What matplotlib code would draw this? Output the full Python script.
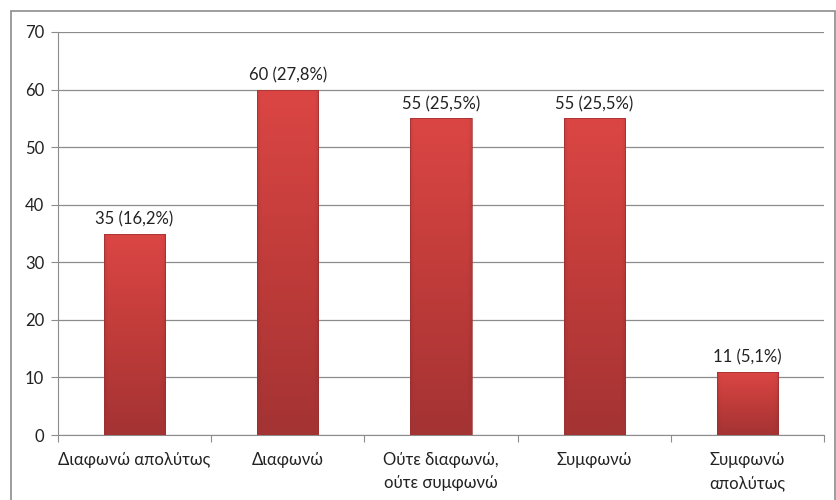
import numpy as np
import matplotlib
matplotlib.use("Agg")
import matplotlib.pyplot as plt
from matplotlib.patches import Rectangle
from matplotlib.colors import LinearSegmentedColormap

categories = ["Διαφωνώ απολύτως", "Διαφωνώ", "Ούτε διαφωνώ,\nούτε συμφωνώ",
              "Συμφωνώ", "Συμφωνώ\nαπολύτως"]
counts = [35, 60, 55, 55, 11]
percents = ["16,2%", "27,8%", "25,5%", "25,5%", "5,1%"]
yticks = [0, 10, 20, 30, 40, 50, 60, 70]

plt.rcParams['font.family'] = ['Lato', 'DejaVu Sans']

fig = plt.figure(figsize=(8.37, 5.0), dpi=100)
fig.patch.set_facecolor("white")
ax = fig.add_axes([58 / 837, 1 - 435 / 500, (824 - 58) / 837, (435 - 32) / 500])

# outer chart border
fig.add_artist(Rectangle((11 / 837, -0.01), (835 - 11) / 837, (489 + 0.01 * 500) / 500,
                         transform=fig.transFigure, fill=False,
                         edgecolor="#8c8c8c", linewidth=1.2))

ax.set_xlim(-0.5, len(categories) - 0.5)
ax.set_ylim(0, 70)
ax.set_yticks(yticks)
ax.set_yticklabels([str(t) for t in yticks], fontsize=12, color="#222222")
ax.yaxis.grid(True, color="#8c8c8c", linewidth=0.9)
ax.set_axisbelow(True)
for side in ["top", "right"]:
    ax.spines[side].set_visible(False)
ax.spines["left"].set_color("#8c8c8c")
ax.spines["bottom"].set_color("#8c8c8c")
ax.tick_params(axis="y", length=5, color="#8c8c8c", pad=5)

# category tick marks between groups
ax.set_xticks(np.arange(-0.5, len(categories), 1.0))
ax.set_xticklabels([])
ax.tick_params(axis="x", length=5, color="#8c8c8c", direction="out")
for i, c in enumerate(categories):
    ax.text(i, -2.9, c, ha="center", va="top", fontsize=12, color="#222222",
            linespacing=1.6)

# vertical shading of the bars: lighter at top, darker at bottom
red_cmap = LinearSegmentedColormap.from_list("redbar", ["#a43333", "#c03c3a", "#db4644"])
width = 0.4
for i, v in enumerate(counts):
    x0 = i - width / 2
    ny, nx = 300, 120
    yy = np.linspace(0, 1, ny)[:, None]
    xx = np.linspace(0, 1, nx)[None, :]
    grad = np.repeat(yy, nx, axis=1)
    # softly darker bevelled sides
    edge = np.clip(np.minimum(xx, 1 - xx) / 0.07, 0, 1) ** 0.6
    shade = grad - (1 - edge) * 0.35
    img = ax.imshow(shade, cmap=red_cmap, vmin=0, vmax=1, origin="lower",
                    extent=(x0, x0 + width, 0, v), aspect="auto", zorder=3,
                    interpolation="bilinear")
    rect = Rectangle((x0, 0), width, v, transform=ax.transData, facecolor="none",
                     edgecolor="#9a3030", linewidth=0.5, zorder=4)
    ax.add_patch(rect)
    img.set_clip_path(rect)
    ax.text(i, v + 1.0, f"{v} ({percents[i]})", ha="center", va="bottom",
            fontsize=12, color="#222222", zorder=5)

ax.set_xlim(-0.5, len(categories) - 0.5)
fig.savefig("out.png", dpi=100, facecolor="white")
